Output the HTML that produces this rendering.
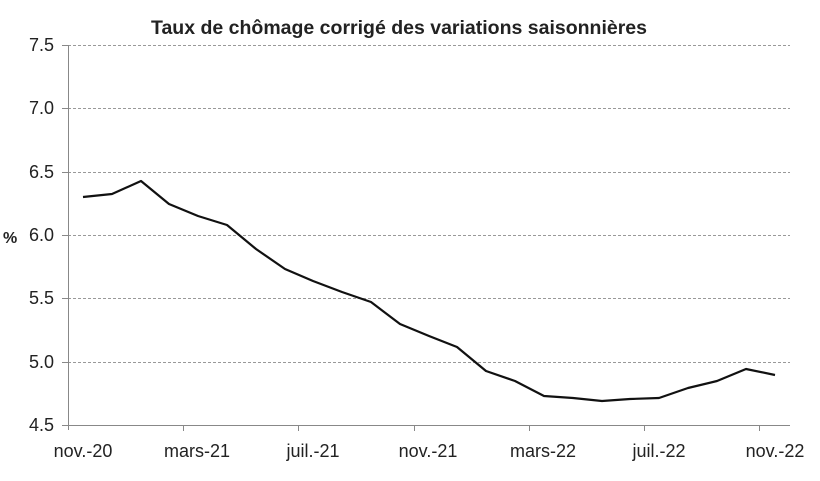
<!DOCTYPE html>
<html><head><style>body{margin:0;background:#fff}</style></head><body>
<svg width="820" height="476" xmlns="http://www.w3.org/2000/svg" font-family="Liberation Sans, sans-serif">
<text x="399" y="34" text-anchor="middle" font-size="19.5" font-weight="bold" fill="#222">Taux de chômage corrigé des variations saisonnières</text>
<g stroke="#999" stroke-dasharray="3,2" stroke-width="1">
<line x1="68" x2="790" y1="45.5" y2="45.5"/><line x1="68" x2="790" y1="108.5" y2="108.5"/>
<line x1="68" x2="790" y1="172.5" y2="172.5"/><line x1="68" x2="790" y1="235.5" y2="235.5"/>
<line x1="68" x2="790" y1="298.5" y2="298.5"/><line x1="68" x2="790" y1="362.5" y2="362.5"/>
</g>
<g stroke="#888" stroke-width="1">
<line x1="68.5" x2="68.5" y1="45" y2="430"/><line x1="62" x2="790" y1="425.5" y2="425.5"/>
<line x1="62" x2="68" y1="45.5" y2="45.5"/><line x1="62" x2="68" y1="108.5" y2="108.5"/><line x1="62" x2="68" y1="172.5" y2="172.5"/><line x1="62" x2="68" y1="235.5" y2="235.5"/><line x1="62" x2="68" y1="298.5" y2="298.5"/><line x1="62" x2="68" y1="362.5" y2="362.5"/>
<line x1="183.5" x2="183.5" y1="425" y2="431"/><line x1="298.5" x2="298.5" y1="425" y2="431"/><line x1="414.5" x2="414.5" y1="425" y2="431"/><line x1="529.5" x2="529.5" y1="425" y2="431"/><line x1="644.5" x2="644.5" y1="425" y2="431"/><line x1="759.5" x2="759.5" y1="425" y2="431"/>
</g>
<g font-size="18" fill="#222" text-anchor="end">
<text x="54" y="51">7.5</text><text x="54" y="114">7.0</text><text x="54" y="178">6.5</text><text x="54" y="241">6.0</text><text x="54" y="304">5.5</text><text x="54" y="368">5.0</text><text x="54" y="431">4.5</text>
</g>
<text x="3" y="243" font-size="16" font-weight="bold" fill="#222">%</text>
<g font-size="18" fill="#222" text-anchor="middle">
<text x="83" y="457">nov.-20</text><text x="197" y="457">mars-21</text><text x="313" y="457">juil.-21</text><text x="428" y="457">nov.-21</text><text x="543" y="457">mars-22</text><text x="659" y="457">juil.-22</text><text x="775" y="457">nov.-22</text>
</g>
<polyline fill="none" stroke="#111" stroke-width="2.2" stroke-linejoin="round" points="83,197 112,194 141,181 169,204 198,216 227,225 256,249 285,269 313,281 342,292 371,302 400,324 429,336 457,347 486,371 515,381 544,396 573,398 602,401 630,399 659,398 688,388 717,381 746,369 775,375"/>
</svg>
</body></html>
